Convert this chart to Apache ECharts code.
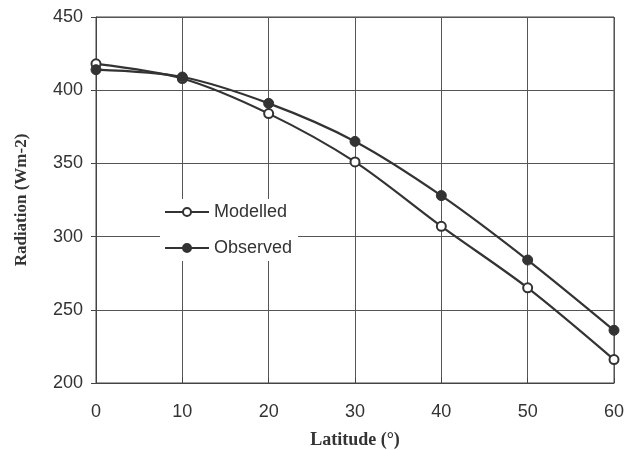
<!DOCTYPE html>
<html><head><meta charset="utf-8">
<script src="https://cdn.jsdelivr.net/npm/echarts@6/dist/echarts.min.js"></script>
<style>html,body{margin:0;padding:0;background:#fff}#c{width:628px;height:450px}</style>
</head><body><div id="c"></div>
<script>
const latitudes = [0, 10, 20, 30, 40, 50, 60];
const modelled = [418, 408, 384, 351, 307, 265, 216];
const observed = [414, 409, 391, 365, 328, 284, 236];
const yTicks = [200, 250, 300, 350, 400, 450];

const chart = echarts.init(document.getElementById('c'));
const lineCol = '#333';
chart.setOption({
  backgroundColor: '#fff',
  animation: false,
  grid: {left: 96, right: 14, top: 17, bottom: 67, show: true, borderColor: '#444', borderWidth: 1, outerBoundsMode: 'none', containLabel: false},
  legend: {
    orient: 'vertical', left: 160, top: 199, itemGap: 18, itemWidth: 44, itemHeight: 10,
    backgroundColor: '#fff', padding: [4, 6, 4, 4],
    textStyle: {fontFamily: 'Liberation Sans', fontSize: 18, color: '#333'},
    data: ['Modelled', 'Observed']
  },
  xAxis: {
    type: 'value', min: 0, max: 60, interval: 10,
    name: 'Latitude (°)', nameLocation: 'middle', nameGap: 48,
    nameTextStyle: {fontFamily: 'Liberation Serif', fontWeight: 'bold', fontSize: 18, color: '#333'},
    axisLine: {lineStyle: {color: '#444'}},
    axisTick: {show: true, inside: true, length: 5, lineStyle: {color: '#444'}},
    axisLabel: {fontFamily: 'Liberation Sans', fontSize: 18, color: '#333', margin: 20},
    splitLine: {show: true, lineStyle: {color: '#555', width: 1}}
  },
  yAxis: {
    type: 'value', min: yTicks[0], max: yTicks[yTicks.length - 1], interval: 50,
    name: 'Radiation (Wm-2)', nameLocation: 'middle', nameGap: 66,
    nameTextStyle: {fontFamily: 'Liberation Serif', fontWeight: 'bold', fontSize: 17, color: '#333'},
    axisLine: {show: true, lineStyle: {color: '#444'}},
    axisTick: {show: true, length: 5, lineStyle: {color: '#444'}},
    axisLabel: {fontFamily: 'Liberation Sans', fontSize: 18, color: '#333', margin: 13},
    splitLine: {show: true, lineStyle: {color: '#555', width: 1}}
  },
  series: [
    {
      name: 'Modelled', type: 'line', smooth: 0.3,
      data: latitudes.map((x, i) => [x, modelled[i]]),
      symbol: 'circle', symbolSize: 9,
      lineStyle: {color: lineCol, width: 2.2},
      itemStyle: {color: '#fff', borderColor: lineCol, borderWidth: 2}
    },
    {
      name: 'Observed', type: 'line', smooth: 0.3,
      data: latitudes.map((x, i) => [x, observed[i]]),
      symbol: 'circle', symbolSize: 10,
      lineStyle: {color: lineCol, width: 2.2},
      itemStyle: {color: lineCol, borderColor: lineCol, borderWidth: 1}
    }
  ]
});
</script></body></html>
